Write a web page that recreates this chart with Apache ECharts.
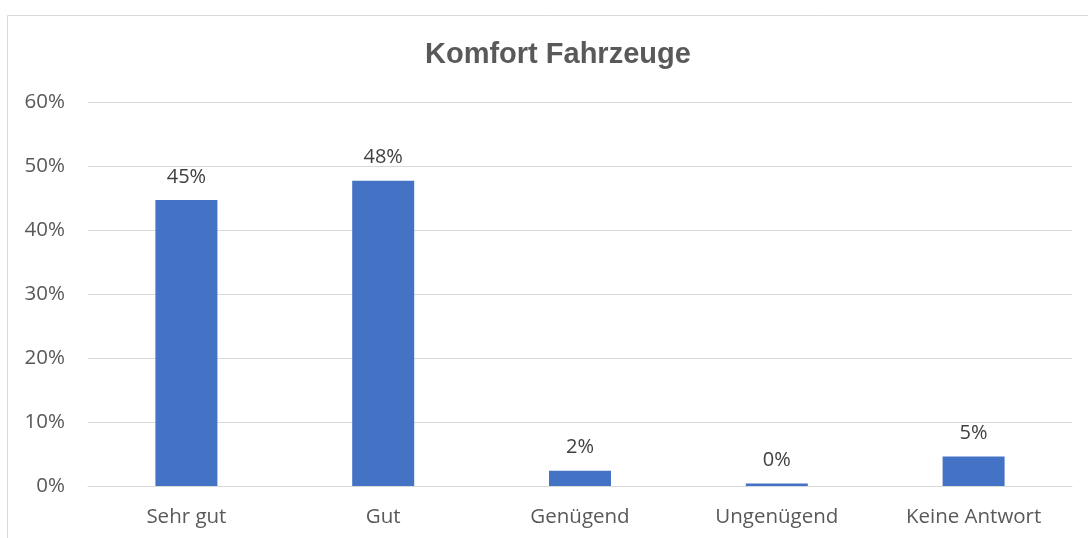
<!DOCTYPE html>
<html>
<head>
<meta charset="utf-8">
<script src="https://cdn.jsdelivr.net/npm/echarts@6/dist/echarts.min.js"></script>
<style>
html,body{margin:0;padding:0;background:#fff;}
#c{width:1088px;height:538px;}
</style>
</head>
<body>
<div id="c"></div>
<script>
const titleText = 'Komfort Fahrzeuge';
const categories = ['Sehr gut', 'Gut', 'Genügend', 'Ungenügend', 'Keine Antwort'];
const values = [44.7, 47.7, 2.4, 0.4, 4.6];
const yTicks = [0, 10, 20, 30, 40, 50, 60];

const chart = echarts.init(document.getElementById('c'), null, {renderer: 'canvas'});
const txt = '#595959';
const font = '"Open Sans", "Noto Sans", sans-serif';
chart.setOption({
  animation: false,
  backgroundColor: '#ffffff',
  graphic: [{
    type: 'rect', silent: true,
    shape: {x: 7.5, y: 15.5, width: 1100, height: 600},
    style: {fill: 'none', stroke: '#d9d9d9', lineWidth: 1}
  }],
  title: {
    text: titleText, left: 420, top: 35,
    textStyle: {fontFamily: '"Liberation Sans", Arial, sans-serif', fontWeight: 'bold', fontSize: 29, color: txt}
  },
  grid: {left: 88, right: 16, top: 102, bottom: 52, containLabel: false},
  xAxis: {
    type: 'category', data: categories,
    axisLine: {show: true, lineStyle: {color: '#d9d9d9', width: 1}},
    axisTick: {show: false},
    axisLabel: {color: txt, fontFamily: font, fontSize: 20.5, margin: 21}
  },
  yAxis: {
    type: 'value', min: yTicks[0], max: yTicks[yTicks.length - 1], interval: 10,
    axisLine: {show: false}, axisTick: {show: false},
    splitLine: {lineStyle: {color: '#d9d9d9', width: 1}},
    axisLabel: {color: txt, fontFamily: font, fontSize: 20.5, margin: 23, formatter: v => v + '%'}
  },
  series: [{
    type: 'bar', data: values, barWidth: 62,
    itemStyle: {color: '#4472C4'},
    label: {
      show: true, position: 'top', distance: 13,
      color: '#404040', fontFamily: font, fontSize: 20,
      formatter: p => Math.round(p.value) + '%'
    }
  }]
});
</script>
</body>
</html>
